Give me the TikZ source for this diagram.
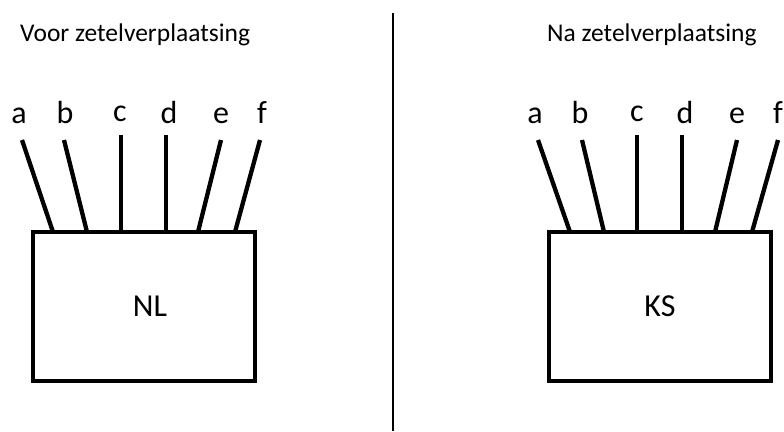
\documentclass[tikz,border=0pt]{standalone}
\usepackage{fontspec}
\setmainfont{Carlito}
\usetikzlibrary{positioning}

\begin{document}
\begin{tikzpicture}[x=1pt, y=-1pt,
    box/.style={draw, line width=4.3pt, minimum width=222pt, minimum height=149pt,
        inner sep=0pt, font=\fontsize{32}{34}\selectfont},
    wire/.style={line width=4.3pt},
    letter/.style={font=\fontsize{32}{34}\selectfont, inner sep=0pt, anchor=base},
    title/.style={font=\fontsize{25.5}{28}\selectfont, inner sep=0pt, anchor=base west}]

    \useasboundingbox (0,0) rectangle (784,431);

    % =================================================================
    % 1. TITELS EN SCHEIDINGSLIJN
    % =================================================================
    \node[title] (voor) at (20,41) {Voor zetelverplaatsing};
    \node[title] (na) at (547,41) {Na zetelverplaatsing};

    \coordinate (mid-top) at (393,13);
    \coordinate (mid-bot) at (393,431);
    \draw[line width=1.5pt] (mid-top) -- (mid-bot);

    % =================================================================
    % 2. DE TWEE BLOKKEN
    % =================================================================
    \node[box] (NL) at (144,306.5) {\hspace*{12pt}NL};
    \node[box] (KS) at (660,306.5) {KS};

    % =================================================================
    % 3. DRADEN a--f MET LETTERS
    % =================================================================
    % links: naam / letter x / letter y / top x / top y / voet x
    \foreach \n/\lx/\ly/\tx/\ty/\bx in {a/19/123/22/140/53, b/65/123/64/140/87,
        c/120/121/121/135/121, d/169/123/166/135/166,
        e/221/123/221/140/198, f/262/123/260/140/235} {
        \node[letter] (NL-\n) at (\lx,\ly) {\n};
        \coordinate (NL-\n-top) at (\tx,\ty);
        \coordinate (NL-\n-bot) at (\bx,232);
        \draw[wire] (NL-\n-top) -- (NL-\n-bot);
    }

    % rechts
    \foreach \n/\lx/\ly/\tx/\ty/\bx in {a/535/123/538/140/570, b/580/123/582/140/604,
        c/637/121/637/135/637, d/685/123/682/135/682,
        e/737/123/737/140/715, f/778/123/778/140/752} {
        \node[letter] (KS-\n) at (\lx,\ly) {\n};
        \coordinate (KS-\n-top) at (\tx,\ty);
        \coordinate (KS-\n-bot) at (\bx,232);
        \draw[wire] (KS-\n-top) -- (KS-\n-bot);
    }

\end{tikzpicture}
\end{document}
